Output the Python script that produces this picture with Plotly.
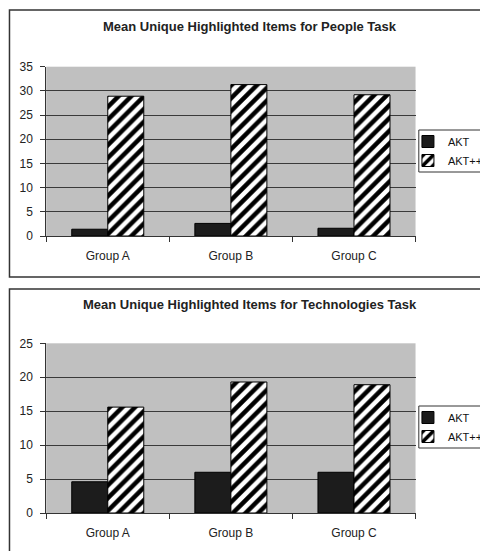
import plotly.graph_objects as go

# The page body adds an 8px margin, so the figure is 480x543 and placed
# with reference-pixel coordinates shifted by 8.
OFF = 8
W, H = 488 - OFF, 551 - OFF

categories = ["Group A", "Group B", "Group C"]
series_names = ["AKT", "AKT++"]

people_akt = [1.4, 2.6, 1.6]
people_aktpp = [28.9, 31.3, 29.2]

tech_akt = [4.6, 6.0, 6.0]
tech_aktpp = [15.6, 19.3, 18.9]

titles = ["Mean Unique Highlighted Items for People Task",
          "Mean Unique Highlighted Items for Technologies Task"]

def px_x(p):
    return (p - OFF) / W

def px_y(p):
    return 1 - (p - OFF) / H

FAM = "Liberation Sans, Arial, sans-serif"

fig = go.Figure()

solid = dict(color="#1c1c1c", line=dict(color="#000000", width=1))
hatch = dict(color="white", line=dict(color="#000000", width=1),
             pattern=dict(shape="/", fgcolor="#000000", bgcolor="white",
                          size=9, solidity=0.5))

fig.add_trace(go.Bar(x=categories, y=people_akt, name=series_names[0],
                     marker=solid, xaxis="x", yaxis="y", legend="legend"))
fig.add_trace(go.Bar(x=categories, y=people_aktpp, name=series_names[1],
                     marker=hatch, xaxis="x", yaxis="y", legend="legend"))
fig.add_trace(go.Bar(x=categories, y=tech_akt, name=series_names[0],
                     marker=solid, xaxis="x2", yaxis="y2", legend="legend2"))
fig.add_trace(go.Bar(x=categories, y=tech_aktpp, name=series_names[1],
                     marker=hatch, xaxis="x2", yaxis="y2", legend="legend2"))

xdom = [px_x(46.7), px_x(420.7)]
font = dict(family=FAM, size=12, color="#222222")

xcommon = dict(domain=xdom, type="category", showline=True, linecolor="#333333",
               linewidth=1, ticks="outside", tickson="boundaries", ticklen=5,
               tickcolor="#333333", showgrid=False, automargin=False,
               ticklabelstandoff=9, tickfont=font)
ycommon = dict(showline=True, linecolor="#333333", linewidth=1, ticks="outside",
               ticklen=5, tickcolor="#333333", showgrid=True, gridcolor="#3a3a3a",
               gridwidth=1, zeroline=False, automargin=False, tickfont=font,
               ticklabelstandoff=5)

legend_common = dict(bgcolor="rgba(0,0,0,0)", borderwidth=0,
                     font=dict(family=FAM, size=11, color="#111111"),
                     xanchor="left", yanchor="top", itemwidth=30, tracegroupgap=0)

fig.update_layout(
    width=W, height=H,
    margin=dict(l=0, r=0, t=0, b=0),
    template="none",
    paper_bgcolor="white",
    plot_bgcolor="#c0c0c0",
    barmode="group",
    bargap=0.415,
    bargroupgap=0,
    showlegend=True,
    xaxis=dict(xcommon, anchor="y"),
    yaxis=dict(ycommon, domain=[px_y(236), px_y(66.7)], range=[0, 35], dtick=5, anchor="x"),
    xaxis2=dict(xcommon, anchor="y2"),
    yaxis2=dict(ycommon, domain=[px_y(513), px_y(343.3)], range=[0, 25], dtick=5, anchor="x2"),
    legend=dict(legend_common, x=px_x(413), y=px_y(127)),
    legend2=dict(legend_common, x=px_x(413), y=px_y(403)),
    shapes=[
        dict(type="rect", xref="paper", yref="paper", x0=px_x(9.5), x1=1.05,
             y0=px_y(277), y1=px_y(10), line=dict(color="#333333", width=1.5)),
        dict(type="rect", xref="paper", yref="paper", x0=px_x(9.5), x1=1.05,
             y0=-0.05, y1=px_y(289), line=dict(color="#333333", width=1.5)),
        dict(type="rect", xref="paper", yref="paper", x0=px_x(424), x1=1.05,
             y0=px_y(172), y1=px_y(130), line=dict(color="#333333", width=1)),
        dict(type="rect", xref="paper", yref="paper", x0=px_x(424), x1=1.05,
             y0=px_y(448), y1=px_y(406), line=dict(color="#333333", width=1)),
    ],
    annotations=[
        dict(text="<b>" + titles[0] + "</b>", xref="paper", yref="paper",
             x=px_x(253), y=px_y(26), yanchor="middle", showarrow=False,
             font=dict(family=FAM, size=13, color="#222222")),
        dict(text="<b>" + titles[1] + "</b>", xref="paper", yref="paper",
             x=px_x(253), y=px_y(304), yanchor="middle", showarrow=False,
             font=dict(family=FAM, size=13, color="#222222")),
    ],
)

fig.write_html("out.html")
